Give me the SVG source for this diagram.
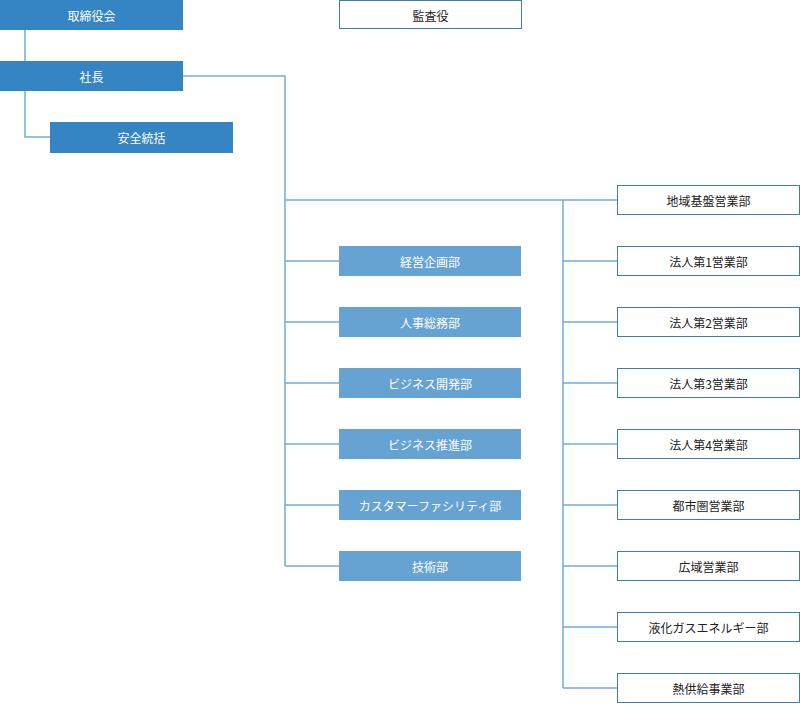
<svg xmlns="http://www.w3.org/2000/svg" width="800" height="712" viewBox="0 0 800 712">
<style>
.dk{fill:#3584c4}
.lt{fill:#66a3d3}
.wh{fill:#fff;stroke:#3d7eb0;stroke-width:1}
.tw{fill:#fff;font-family:"Noto Sans CJK JP","Noto Sans",sans-serif;font-size:12px;text-anchor:middle;dominant-baseline:central}
.tb{fill:#222;font-family:"Noto Sans CJK JP","Noto Sans",sans-serif;font-size:12px;text-anchor:middle;dominant-baseline:central}
.ln{fill:none;stroke:#74aad6;stroke-width:1.5}
</style>
<rect width="800" height="712" fill="#fff"/>
<g id="connectors">
<path class="ln" d="M25 30V61M25 91V137H50"/>
<path class="ln" d="M183 76H285V566"/>
<path class="ln" d="M285 200H617M563 200V688"/>
<path class="ln" d="M285 261H339M285 322H339M285 383H339M285 444H339M285 505H339M285 566H339"/>
<path class="ln" d="M563 261H617M563 322H617M563 383H617M563 444H617M563 505H617M563 566H617M563 627H617M563 688H617"/>
</g>
<g id="n-torishimariyakukai"><rect class="dk" x="0" y="0" width="183" height="30"/><text class="tw" x="91.5" y="15">取締役会</text></g>
<g id="n-kansayaku"><rect class="wh" x="339.5" y="0.5" width="182" height="28"/><text class="tb" x="430.5" y="15">監査役</text></g>
<g id="n-shacho"><rect class="dk" x="0" y="61" width="183" height="30"/><text class="tw" x="91.5" y="76">社長</text></g>
<g id="n-anzen"><rect class="dk" x="50" y="122" width="183" height="31"/><text class="tw" x="141.5" y="137.5">安全統括</text></g>
<g id="n-keiei"><rect class="lt" x="339" y="246" width="182" height="30"/><text class="tw" x="430" y="261">経営企画部</text></g>
<g id="n-jinji"><rect class="lt" x="339" y="307" width="182" height="30"/><text class="tw" x="430" y="322">人事総務部</text></g>
<g id="n-bizkaihatsu"><rect class="lt" x="339" y="368" width="182" height="30"/><text class="tw" x="430" y="383">ビジネス開発部</text></g>
<g id="n-bizsuishin"><rect class="lt" x="339" y="429" width="182" height="30"/><text class="tw" x="430" y="444">ビジネス推進部</text></g>
<g id="n-customer"><rect class="lt" x="339" y="490" width="182" height="30"/><text class="tw" x="430" y="505">カスタマーファシリティ部</text></g>
<g id="n-gijutsu"><rect class="lt" x="339" y="551" width="182" height="30"/><text class="tw" x="430" y="566">技術部</text></g>
<g id="n-chiiki"><rect class="wh" x="617.5" y="185.5" width="182" height="29"/><text class="tb" x="708.5" y="200">地域基盤営業部</text></g>
<g id="n-hojin1"><rect class="wh" x="617.5" y="246.5" width="182" height="29"/><text class="tb" x="708.5" y="261">法人第1営業部</text></g>
<g id="n-hojin2"><rect class="wh" x="617.5" y="307.5" width="182" height="29"/><text class="tb" x="708.5" y="322">法人第2営業部</text></g>
<g id="n-hojin3"><rect class="wh" x="617.5" y="368.5" width="182" height="29"/><text class="tb" x="708.5" y="383">法人第3営業部</text></g>
<g id="n-hojin4"><rect class="wh" x="617.5" y="429.5" width="182" height="29"/><text class="tb" x="708.5" y="444">法人第4営業部</text></g>
<g id="n-toshiken"><rect class="wh" x="617.5" y="490.5" width="182" height="29"/><text class="tb" x="708.5" y="505">都市圏営業部</text></g>
<g id="n-koiki"><rect class="wh" x="617.5" y="551.5" width="182" height="29"/><text class="tb" x="708.5" y="566">広域営業部</text></g>
<g id="n-ekika"><rect class="wh" x="617.5" y="612.5" width="182" height="29"/><text class="tb" x="708.5" y="627">液化ガスエネルギー部</text></g>
<g id="n-netsu"><rect class="wh" x="617.5" y="673.5" width="182" height="29"/><text class="tb" x="708.5" y="688">熱供給事業部</text></g>
</svg>
